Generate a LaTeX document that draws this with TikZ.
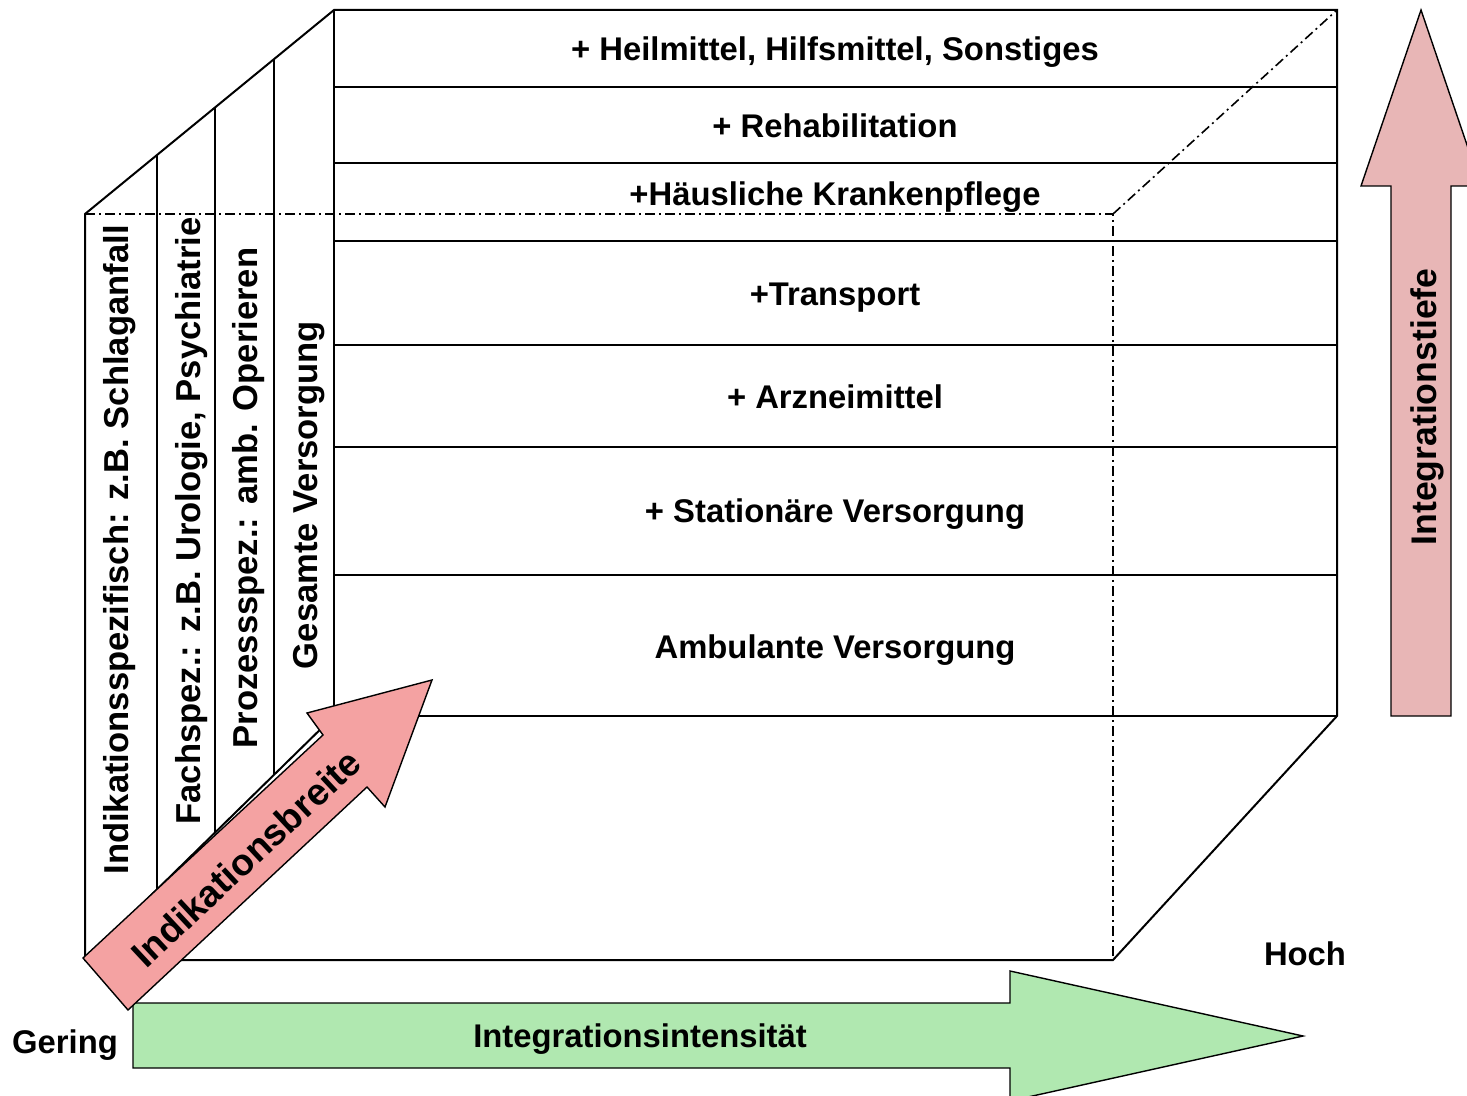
\documentclass[tikz,border=0pt]{standalone}
\usepackage{fontspec}
\setmainfont{Liberation Sans}
\definecolor{breitered}{RGB}{244,162,162}
\definecolor{tiefered}{RGB}{232,182,182}
\definecolor{intensgreen}{RGB}{176,232,176}
\tikzset{
  edge/.style={line width=1pt},
  hidden/.style={line width=0.8pt, dash pattern=on 5pt off 2pt on 1pt off 2pt},
  bigarrow/.style={draw=black, line width=0.7pt},
  lbl/.style={font=\fontsize{16.4}{19}\selectfont\bfseries, inner sep=0pt, anchor=base},
  sidelbl/.style={lbl, font=\fontsize{17.3}{20}\selectfont\bfseries, rotate=90}
}
\begin{document}
\begin{tikzpicture}[x=0.5pt,y=-0.5pt]
\useasboundingbox (0,0) rectangle (1467,1096);
% cube
\draw[edge] (85,214) -- (334,10) -- (1337,10) -- (1337,716) -- (1113,960) -- (85,960) -- cycle;
\draw[edge] (334,10) -- (334,716) -- (1337,716);
\draw[edge] (85,960) -- (334,716);
\foreach \y in {87,163,241,345,447,575} \draw[edge] (334,\y) -- (1337,\y);
\foreach \x/\a/\b in {157/155/889,215/107/833,274/59/775} \draw[edge] (\x,\a) -- (\x,\b);
\draw[hidden] (85,214) -- (1113,214) -- (1113,960);
\draw[hidden] (1113,214) -- (1337,10);
% layers
\foreach \y/\t [count=\i] in {61/{+ Heilmittel, Hilfsmittel, Sonstiges},138/{+ Rehabilitation},
  206/{+Häusliche Krankenpflege},306/{+Transport},409/{+ Arzneimittel},
  523/{+ Stationäre Versorgung},658/{Ambulante Versorgung}}
  \node[lbl] (layer\i) at (835,\y) {\t};
% side face
\foreach \x/\y/\t [count=\i] in {128/550/{Indikationsspezifisch: z.B. Schlaganfall},
  200/521/{Fachspez.: z.B. Urologie, Psychiatrie},257/498/{Prozessspez.: amb. Operieren},
  317/495/{Gesamte Versorgung}}
  \node[sidelbl] (side\i) at (\x,\y) {\t};
% arrows
\filldraw[bigarrow, fill=intensgreen] (133,1003) -- (1010,1003) -- (1010,971) -- (1303,1036)
  -- (1010,1101) -- (1010,1068) -- (133,1068) -- cycle;
\filldraw[bigarrow, fill=tiefered] (1391,716) -- (1391,186) -- (1361,186) -- (1421,10)
  -- (1481,186) -- (1451,186) -- (1451,716) -- cycle;
\filldraw[bigarrow, fill=breitered] (83,958) -- (323,735) -- (307,713) -- (432,680)
  -- (385,807) -- (367,787) -- (128,1010) -- cycle;
\node[lbl] (intens) at (640,1047) {Integrationsintensität};
\node[lbl, font=\fontsize{17.8}{20}\selectfont\bfseries, rotate=90] (tiefe) at (1436,407) {Integrationstiefe};
\node[lbl, font=\fontsize{18.6}{21}\selectfont\bfseries, anchor=center, rotate=43] (breite) at (246,858) {Indikationsbreite};
\node[lbl] (hoch) at (1305,965) {Hoch};
\node[lbl] (gering) at (65,1053) {Gering};
\end{tikzpicture}
\end{document}
